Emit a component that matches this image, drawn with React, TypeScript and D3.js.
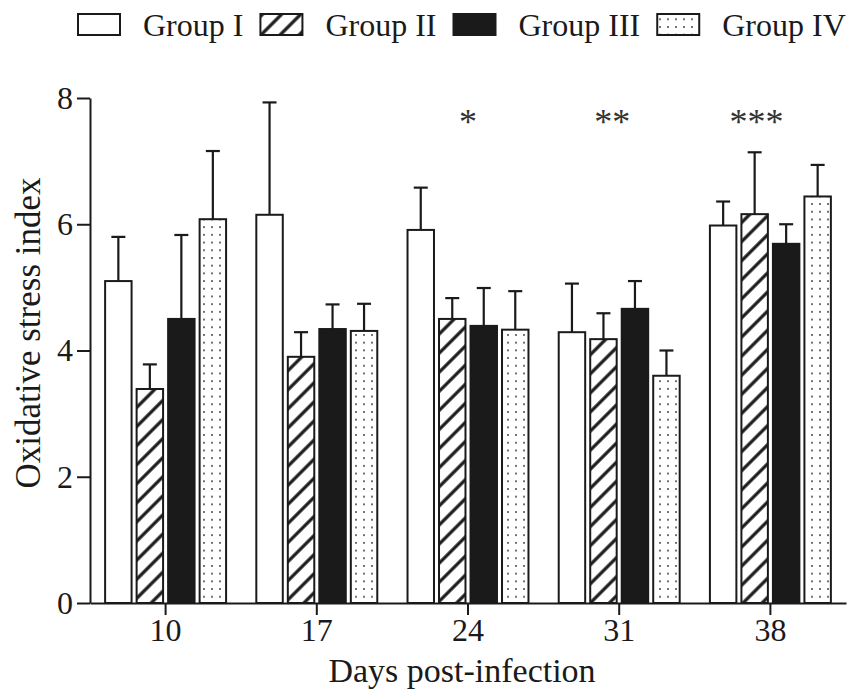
import {Component, createRef} from "react";
import * as d3 from "d3";

// values
const days = ["10", "17", "24", "31", "38"]
const groups = ["Group I", "Group II", "Group III", "Group IV"]
const groupI = [5.10, 6.15, 5.91, 4.29, 5.98]
const groupII = [3.39, 3.90, 4.50, 4.18, 6.16]
const groupIII = [4.50, 4.34, 4.39, 4.66, 5.69]
const groupIV = [6.08, 4.31, 4.33, 3.60, 6.44]
const errI = [0.70, 1.78, 0.67, 0.77, 0.38]
const errII = [0.39, 0.39, 0.33, 0.41, 0.98]
const errIII = [1.33, 0.39, 0.60, 0.44, 0.31]
const errIV = [1.08, 0.43, 0.61, 0.40, 0.50]
const stars = ["", "", "*", "**", "***"]
const yTicks = [0, 2, 4, 6, 8]

const FONT = "'Liberation Serif', 'Times New Roman', serif"
const INK = "#1a1a1a"

class App extends Component {
    constructor(props) {
        super(props)
        this.width = 850
        this.height = 697
        this.myRef = createRef()
    }

    componentDidMount() {
        document.body.style.margin = "0"
        this.paint()
    }

    paint() {
        const svg = d3.select(this.myRef.current)
        svg.selectAll("*").remove()

        const means = [groupI, groupII, groupIII, groupIV]
        const errs = [errI, errII, errIII, errIV]
        const fills = ["#ffffff", "url(#hatch)", INK, "url(#dots)"]

        // patterns
        const defs = svg.append("defs")
        const hatch = defs.append("pattern")
            .attr("id", "hatch")
            .attr("patternUnits", "userSpaceOnUse")
            .attr("width", 13.5).attr("height", 13.5)
            .attr("patternTransform", "rotate(45)")
        hatch.append("rect").attr("width", 13.5).attr("height", 13.5).attr("fill", "#fff")
        hatch.append("line")
            .attr("x1", 6.75).attr("x2", 6.75).attr("y1", 0).attr("y2", 13.5)
            .attr("stroke", INK).attr("stroke-width", 3.2)

        const dots = defs.append("pattern")
            .attr("id", "dots")
            .attr("patternUnits", "userSpaceOnUse")
            .attr("width", 8).attr("height", 7.7)
        dots.append("rect").attr("width", 8).attr("height", 7.7).attr("fill", "#fff")
        dots.append("circle").attr("cx", 4).attr("cy", 3.8).attr("r", 0.95).attr("fill", "#333")

        const x0 = d3.scaleBand().domain(days).range([90, 846]).paddingInner(0.2).paddingOuter(0.1)
        const x1 = d3.scaleBand().domain(groups).range([0, x0.bandwidth()]).paddingInner(0.16)
        const y = d3.scaleLinear().domain([0, 8]).range([603, 98])

        // bars
        const rows = []
        days.forEach((d, i) => {
            groups.forEach((g, j) => {
                rows.push({day: d, group: g, mean: means[j][i], err: errs[j][i], fill: fills[j]})
            })
        })

        const bars = svg.append("g").attr("id", "bars")
        bars.selectAll(".err")
            .data(rows)
            .join("g")
            .attr("class", "err")
            .each(function (d) {
                const cx = x0(d.day) + x1(d.group) + x1.bandwidth() / 2
                const g = d3.select(this)
                g.append("line")
                    .attr("x1", cx).attr("x2", cx)
                    .attr("y1", y(d.mean)).attr("y2", y(d.mean + d.err))
                    .attr("stroke", INK).attr("stroke-width", 2.2)
                g.append("line")
                    .attr("x1", cx - 7).attr("x2", cx + 7)
                    .attr("y1", y(d.mean + d.err)).attr("y2", y(d.mean + d.err))
                    .attr("stroke", INK).attr("stroke-width", 2.2)
            })

        bars.selectAll(".bar")
            .data(rows)
            .join("rect")
            .attr("class", "bar")
            .attr("x", d => x0(d.day) + x1(d.group))
            .attr("width", x1.bandwidth())
            .attr("y", d => y(d.mean))
            .attr("height", d => y(0) - y(d.mean))
            .attr("fill", d => d.fill)
            .attr("stroke", INK)
            .attr("stroke-width", 2)

        // significance marks
        svg.append("g")
            .selectAll("text")
            .data(days.map((d, i) => ({day: d, mark: stars[i]})).filter(d => d.mark))
            .join("text")
            .attr("x", d => x0(d.day) + x0.bandwidth() / 2 - (d.mark.length - 1) * 7)
            .attr("y", 134)
            .attr("text-anchor", "middle")
            .attr("font-family", FONT)
            .attr("font-size", 36)
            .attr("fill", "#333")
            .text(d => d.mark)

        // axes
        const yAxis = svg.append("g")
            .attr("transform", "translate(90,0)")
            .call(d3.axisLeft(y).tickValues(yTicks).tickSize(13).tickSizeOuter(0).tickPadding(4))
        const xAxis = svg.append("g")
            .attr("transform", "translate(0,603)")
            .call(d3.axisBottom(x0).tickSize(12).tickSizeOuter(0).tickPadding(3))
        for (const ax of [yAxis, xAxis]) {
            ax.selectAll("path, line").attr("stroke", INK).attr("stroke-width", 2)
            ax.selectAll("text")
                .attr("font-family", FONT)
                .attr("font-size", 32)
                .attr("fill", INK)
        }

        svg.append("text")
            .attr("transform", "translate(40,333) rotate(-90)")
            .attr("text-anchor", "middle")
            .attr("font-family", FONT)
            .attr("font-size", 35)
            .attr("fill", INK)
            .text("Oxidative stress index")

        svg.append("text")
            .attr("x", 462)
            .attr("y", 682)
            .attr("text-anchor", "middle")
            .attr("font-family", FONT)
            .attr("font-size", 34)
            .attr("fill", INK)
            .text("Days post-infection")

        // legend
        const legend = svg.append("g").attr("id", "legend")
        let lx = 78
        groups.forEach((g, j) => {
            legend.append("rect")
                .attr("x", lx).attr("y", 14)
                .attr("width", 42).attr("height", 21)
                .attr("fill", fills[j])
                .attr("stroke", INK)
                .attr("stroke-width", 2)
            const t = legend.append("text")
                .attr("x", lx + 65)
                .attr("y", 36)
                .attr("font-family", FONT)
                .attr("font-size", 32)
                .attr("fill", INK)
                .text(g)
            lx = lx + 65 + t.node().getComputedTextLength() + 17
        })
    }

    render() {
        return (
            <div>
                <svg ref={this.myRef} width={this.width} height={this.height}
                     style={{display: "block", background: "#fff"}}/>
            </div>
        )
    }
}

export default App
